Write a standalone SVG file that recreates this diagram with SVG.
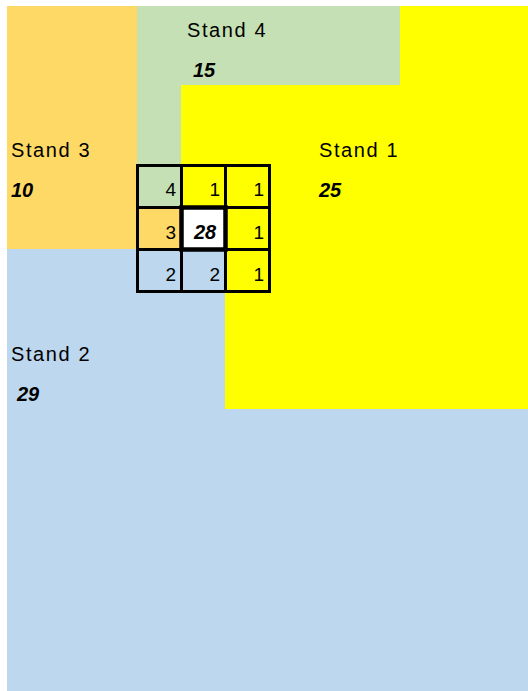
<svg xmlns="http://www.w3.org/2000/svg" width="528" height="691" viewBox="0 0 528 691">
<style>
.lbl{font-family:"Liberation Sans",Arial,sans-serif;font-size:20px;letter-spacing:1.6px;fill:#000}
.val{font-family:"Liberation Sans",Arial,sans-serif;font-size:20px;font-weight:bold;font-style:italic;fill:#000}
.num{font-family:"Liberation Sans",Arial,sans-serif;font-size:19px;fill:#000;text-anchor:end}
.cell{stroke:#000;stroke-width:3}
</style>
<rect width="528" height="691" fill="#fff"/>
<g id="stand2">
<rect x="7" y="249" width="521" height="442" fill="#BDD7EE"/>
<text class="lbl" x="11" y="361">Stand 2</text>
<text class="val" x="17" y="401">29</text>
</g>
<g id="stand3">
<rect x="7" y="6" width="130" height="243" fill="#FFD966"/>
<text class="lbl" x="11" y="157">Stand 3</text>
<text class="val" x="11" y="197">10</text>
</g>
<g id="stand4">
<polygon points="137,6 400,6 400,85 181,85 181,165 137,165" fill="#C5E0B4"/>
<text class="lbl" x="187" y="37">Stand 4</text>
<text class="val" x="193" y="77">15</text>
</g>
<g id="stand1">
<polygon points="400,6 528,6 528,409 225,409 225,291 181,291 181,85 400,85" fill="#FFFF00"/>
<text class="lbl" x="319" y="157">Stand 1</text>
<text class="val" x="319" y="197">25</text>
</g>
<g id="grid">
<rect class="cell" x="137.5" y="165.5" width="44" height="42" fill="#C5E0B4"/>
<rect class="cell" x="181.5" y="165.5" width="44" height="42" fill="#FFFF00"/>
<rect class="cell" x="225.5" y="165.5" width="44" height="42" fill="#FFFF00"/>
<rect class="cell" x="137.5" y="207.5" width="44" height="42" fill="#FFD966"/>
<rect class="cell" x="225.5" y="207.5" width="44" height="42" fill="#FFFF00"/>
<rect class="cell" x="137.5" y="249.5" width="44" height="42" fill="#BDD7EE"/>
<rect class="cell" x="181.5" y="249.5" width="44" height="42" fill="#BDD7EE"/>
<rect class="cell" x="225.5" y="249.5" width="44" height="42" fill="#FFFF00"/>
<rect x="181.5" y="207.5" width="44" height="42" fill="#fff" stroke="#000" stroke-width="4.5"/>
<text class="num" x="176" y="196">4</text>
<text class="num" x="220" y="196">1</text>
<text class="num" x="264" y="196">1</text>
<text class="num" x="176" y="239">3</text>
<text class="val" x="205" y="239" text-anchor="middle">28</text>
<text class="num" x="264" y="239">1</text>
<text class="num" x="176" y="281">2</text>
<text class="num" x="220" y="281">2</text>
<text class="num" x="264" y="281">1</text>
</g>
</svg>
